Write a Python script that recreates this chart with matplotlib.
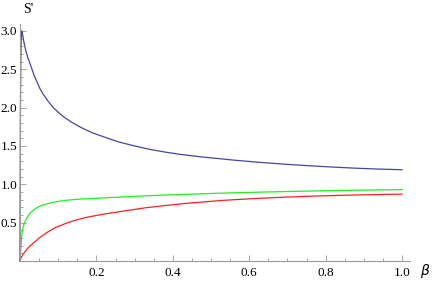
import numpy as np
import matplotlib
matplotlib.use('Agg')
import matplotlib.pyplot as plt
from matplotlib.ticker import FixedLocator

# values
beta_blue = [0, 0.001, 0.002, 0.003, 0.0044, 0.006, 0.008, 0.010, 0.013, 0.016, 0.02,
             0.025, 0.03, 0.037, 0.044, 0.052, 0.06, 0.074, 0.087, 0.10, 0.117,
             0.135, 0.16, 0.19, 0.23, 0.26, 0.30, 0.34, 0.38, 0.42, 0.47, 0.52,
             0.56, 0.63, 0.69, 0.75, 0.81, 0.87, 0.93, 1.0]
s_blue = [0.0, 1.9, 2.6, 2.88, 3.0, 2.97, 2.92, 2.86, 2.79, 2.73, 2.66,
          2.59, 2.52, 2.42, 2.34, 2.25, 2.18, 2.08, 2.00, 1.94, 1.87,
          1.81, 1.74, 1.67, 1.60, 1.55, 1.50, 1.455, 1.42, 1.39, 1.36, 1.335,
          1.315, 1.285, 1.263, 1.244, 1.227, 1.212, 1.20, 1.19]

beta_green = [0, 0.001, 0.0026, 0.0044, 0.007, 0.011, 0.016, 0.021, 0.026, 0.033,
              0.040, 0.048, 0.060, 0.074, 0.095, 0.118, 0.14, 0.16, 0.20,
              0.236, 0.28, 0.33, 0.38, 0.432, 0.48, 0.53, 0.58, 0.628, 0.69,
              0.75, 0.81, 0.87, 0.93, 1.0]
s_green = [0.0, 0.10, 0.19, 0.33, 0.42, 0.49, 0.545, 0.585, 0.62, 0.655,
           0.68, 0.705, 0.73, 0.75, 0.772, 0.79, 0.80, 0.808, 0.818,
           0.827, 0.838, 0.850, 0.860, 0.868, 0.877, 0.885, 0.892, 0.898, 0.905,
           0.911, 0.917, 0.922, 0.926, 0.930]

beta_red = [0, 0.002, 0.005, 0.009, 0.013, 0.019, 0.025, 0.032, 0.039, 0.048,
            0.057, 0.070, 0.080, 0.092, 0.11, 0.125, 0.144, 0.17, 0.196,
            0.22, 0.244, 0.29, 0.33, 0.38, 0.432, 0.48, 0.53, 0.58, 0.628,
            0.69, 0.75, 0.81, 0.87, 0.93, 1.0]
s_red = [0.0, 0.03, 0.06, 0.095, 0.12, 0.16, 0.19, 0.22, 0.25, 0.29,
         0.325, 0.37, 0.40, 0.435, 0.47, 0.50, 0.53, 0.565, 0.59,
         0.612, 0.63, 0.665, 0.695, 0.723, 0.750, 0.770, 0.790, 0.805, 0.818,
         0.832, 0.843, 0.852, 0.860, 0.866, 0.872]

x_major = [0.2, 0.4, 0.6, 0.8, 1.0]
y_major = [0.5, 1.0, 1.5, 2.0, 2.5, 3.0]
x_minor = [0.05, 0.1, 0.15, 0.25, 0.3, 0.35, 0.45, 0.5, 0.55, 0.65, 0.7, 0.75,
           0.85, 0.9, 0.95]
y_minor = [0.1, 0.2, 0.3, 0.4, 0.6, 0.7, 0.8, 0.9, 1.1, 1.2, 1.3, 1.4, 1.6, 1.7,
           1.8, 1.9, 2.1, 2.2, 2.3, 2.4, 2.6, 2.7, 2.8, 2.9]

plt.rcParams['font.family'] = ['Liberation Serif', 'DejaVu Serif']

fig = plt.figure(figsize=(4.36, 2.82), dpi=100)
ax = fig.add_axes([0, 0, 1, 1])
ax.patch.set_alpha(0)

ax.plot(beta_blue, s_blue, color='#4646a0', lw=0.9)
ax.plot(beta_green, s_green, color='#22ee22', lw=0.9)
ax.plot(beta_red, s_red, color='#ff2020', lw=0.9)

ax.set_xlim(-20 / 382, 416 / 382)
ax.set_ylim(-21 / 76.7, 261 / 76.7)

for side in ['top', 'right']:
    ax.spines[side].set_visible(False)
ax.spines['left'].set_position(('data', 0))
ax.spines['bottom'].set_position(('data', 0))
ax.spines['left'].set_bounds(0, 3.09)
ax.spines['bottom'].set_bounds(-0.003, 1.02)
for side in ['left', 'bottom']:
    ax.spines[side].set_color('#999999')
    ax.spines[side].set_linewidth(0.8)

ax.xaxis.set_major_locator(FixedLocator(x_major))
ax.yaxis.set_major_locator(FixedLocator(y_major))
ax.xaxis.set_minor_locator(FixedLocator(x_minor))
ax.yaxis.set_minor_locator(FixedLocator(y_minor))
ax.set_xticklabels([f'{v:.1f}' for v in x_major])
ax.set_yticklabels([f'{v:.1f}' for v in y_major])
ax.tick_params(which='both', direction='in', color='#999999', width=0.6,
               labelsize=9.5, labelcolor='black')
ax.tick_params(which='major', length=4)
ax.tick_params(which='minor', length=2.2)
ax.tick_params(axis='x', pad=4)
ax.tick_params(axis='y', pad=2)

fig.text(23 / 436, 1 - 13 / 282, "S'", fontsize=10)
fig.text(420 / 436, 1 - 275 / 282, r'$\beta$', fontsize=10)

fig.savefig('out.png', dpi=100)
